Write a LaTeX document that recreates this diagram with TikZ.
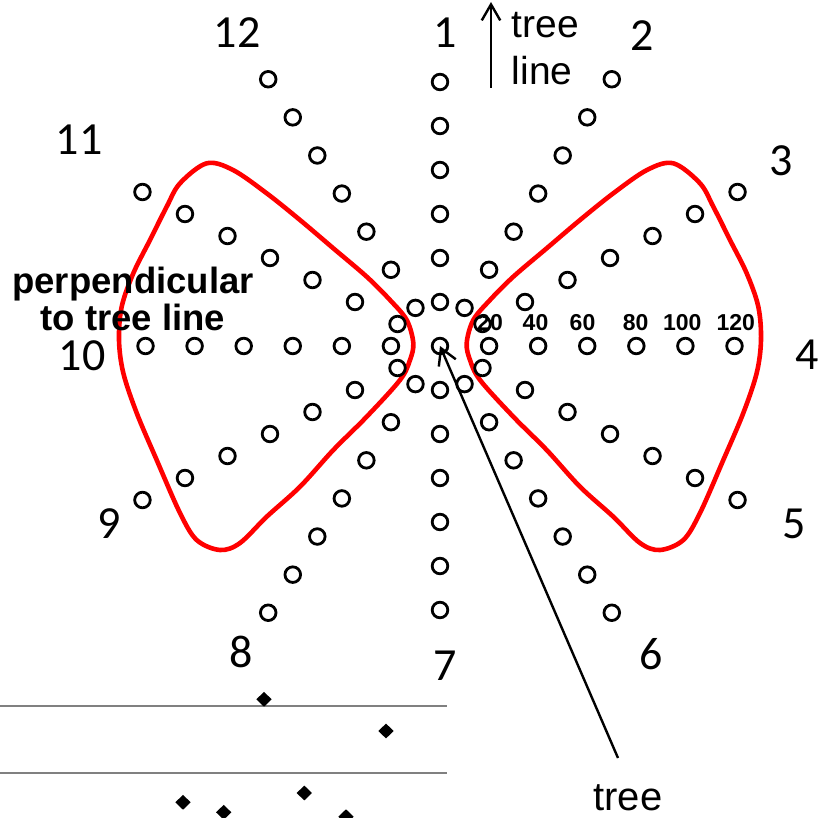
\documentclass[tikz,border=0pt]{standalone}
\usepackage{fontspec}
\setmainfont{Liberation Sans}
\newfontfamily\calfont{Carlito}
\usetikzlibrary{shapes.geometric,arrows.meta}
\begin{document}
\begin{tikzpicture}[x=1pt,y=-1pt,
  dot/.style={circle,draw,line width=2.8pt,minimum size=15.6pt,inner sep=0pt},
  clk/.style={font=\calfont\fontsize{46}{46}\selectfont,inner sep=0pt},
  dist/.style={font=\bfseries\fontsize{23}{23}\selectfont,inner sep=0pt},
  lbl/.style={font=\fontsize{39}{47}\selectfont,inner sep=0pt},
  perp/.style={font=\bfseries\fontsize{36.5}{37}\selectfont,inner sep=0pt},
  lobe/.style={draw=red,line width=4.6pt},
  dmd/.style={diamond,fill=black,draw=none,minimum width=15.5pt,minimum height=15pt,inner sep=0pt},
  ptr/.style={line width=2.4pt,-{Straight Barb[length=16pt,width=18.5pt]}},
  rule/.style={draw=gray,line width=1.8pt}
]
\useasboundingbox (0,0) rectangle (832,818);

% red lobes
\def\lobepath{plot[smooth cycle,tension=0.55] coordinates {
 (206.7,163.3) (233,170) (266.7,193.3) (300,220) (333.3,248.3) (366.7,276.7)
 (390,300) (406.7,320) (413.3,343) (410,360) (400,380) (366.7,416.7)
 (333.3,450) (300,486.7) (266.7,516.7) (240,543) (220,550) (196.7,540)
 (180,513) (156.7,460) (136.7,413) (123.3,373) (119,340) (121.7,306.7)
 (133.3,273.3) (150,240) (166.7,206.7) (180,183.3)}}
\draw[lobe] \lobepath;
\begin{scope}[xshift=880pt,xscale=-1]
\draw[lobe] \lobepath;
\end{scope}

% circles
\node[dot] (c0) at (440,346) {};
\foreach \a/\n in {90/6,60/7,30/7,0/6,-30/7,-60/7,-90/6,-120/7,-150/7,180/6,150/7,120/7} {
  \foreach \k in {1,...,\n} {
    \node[dot] (p\a-\k) at ({440+49.08*\k*cos(\a)},{346-44*\k*sin(\a)}) {};
  }
}

% clock numbers
\node[clk] (n1) at (445,33) {1};
\node[clk] (n2) at (642,36) {2};
\node[clk] (n3) at (781,161) {3};
\node[clk] (n4) at (807,355) {4};
\node[clk] (n5) at (794,524) {5};
\node[clk] (n6) at (651,654) {6};
\node[clk] (n7) at (445,666) {7};
\node[clk] (n8) at (241,652) {8};
\node[clk] (n9) at (109,524) {9};
\node[clk] (n10) at (82,356) {10};
\node[clk] (n11) at (79,140) {11};
\node[clk] (n12) at (237,33) {12};

% distance labels
\node[dist] (d20) at (490,322.5) {20};
\node[dist] (d40) at (535.5,322.5) {40};
\node[dist] (d60) at (582.5,322.5) {60};
\node[dist] (d80) at (635.7,322.5) {80};
\node[dist] (d100) at (682.3,322.5) {100};
\node[dist] (d120) at (735.7,322.5) {120};

% perpendicular label
\node[perp,anchor=base] (perpA) at (133,293.3) {perpendicular};
\node[perp,anchor=base] (perpB) at (133,330.7) {to tree line};

% tree line label and arrow
\node[lbl,anchor=base west] (tlA) at (511.7,37.7) {tree};
\node[lbl,anchor=base west] (tlB) at (511.7,85) {line};
\coordinate (upS) at (491,88);
\coordinate (upE) at (491,2);
\draw[ptr] (upS) -- (upE);

% tree label and arrow
\node[lbl,font=\fontsize{40}{47}\selectfont,anchor=base] (tree) at (628,810) {tree};
\coordinate (treeT) at (618,758);
\draw[ptr] (treeT) -- (c0.center);

% bottom-left chart fragment
\coordinate (g1a) at (0,705.7);
\coordinate (g1b) at (446.7,705.7);
\coordinate (g2a) at (0,773.3);
\coordinate (g2b) at (446.7,773.3);
\draw[rule] (g1a) -- (g1b);
\draw[rule] (g2a) -- (g2b);
\node[dmd] (m1) at (264,699.3) {};
\node[dmd] (m2) at (386,731) {};
\node[dmd] (m3) at (183,802.3) {};
\node[dmd] (m4) at (223.7,812.3) {};
\node[dmd] (m5) at (304.3,793) {};
\node[dmd] (m6) at (346,816.7) {};
\end{tikzpicture}
\end{document}
